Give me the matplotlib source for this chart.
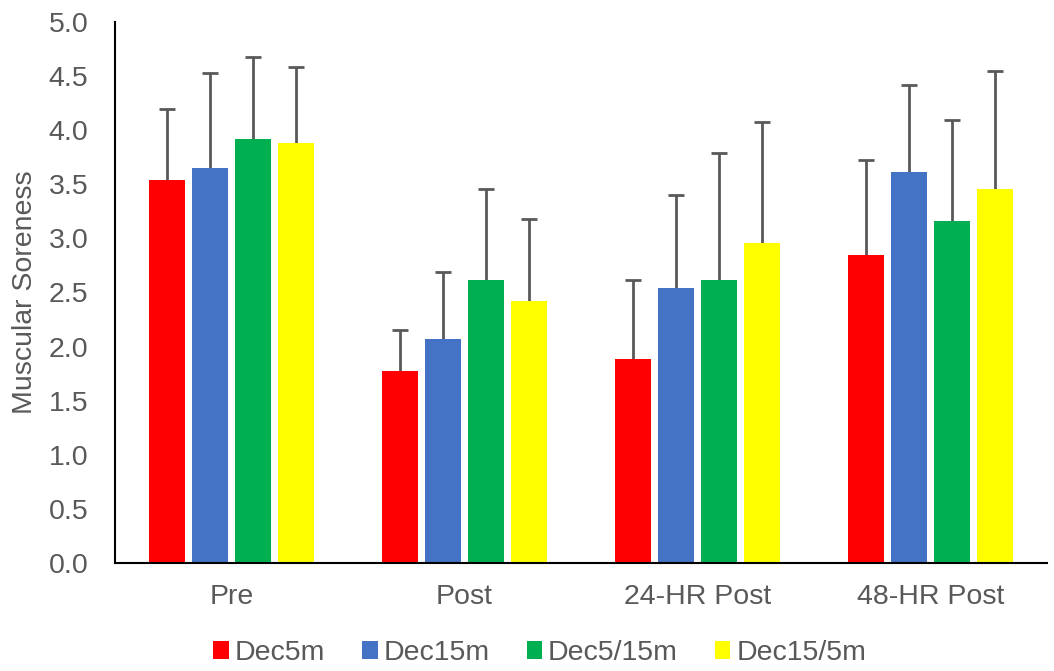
import numpy as np
import matplotlib.pyplot as plt

plt.rcParams['font.family'] = ['Liberation Sans', 'DejaVu Sans']

groups = ["Pre", "Post", "24-HR Post", "48-HR Post"]
series = ["Dec5m", "Dec15m", "Dec5/15m", "Dec15/5m"]
colors = ["#ff0000", "#4472c4", "#00b050", "#ffff00"]

# means per series, one value per group
dec5m = [3.54, 1.77, 1.89, 2.85]
dec15m = [3.65, 2.07, 2.54, 3.61]
dec5_15m = [3.92, 2.62, 2.62, 3.16]
dec15_5m = [3.88, 2.42, 2.96, 3.46]

# upper end of error bars
dec5m_top = [4.20, 2.15, 2.62, 3.72]
dec15m_top = [4.53, 2.69, 3.40, 4.42]
dec5_15m_top = [4.68, 3.46, 3.79, 4.09]
dec15_5m_top = [4.58, 3.18, 4.08, 4.55]

means = [dec5m, dec15m, dec5_15m, dec15_5m]
tops = [dec5m_top, dec15m_top, dec5_15m_top, dec15_5m_top]

fig = plt.figure(figsize=(10.54, 6.71), dpi=100)
ax = fig.add_axes([115 / 1054, 1 - 563 / 671, 932 / 1054, 541 / 671])

x = np.arange(len(groups))
width = 0.155
step = 0.185
gray = "#595959"
fs = 20.5

for i, (name, col) in enumerate(zip(series, colors)):
    m = np.array(means[i])
    err = np.array(tops[i]) - m
    pos = x + (i - 1.5) * step
    ax.bar(pos, m, width, color=col, label=name, zorder=2)
    eb = ax.errorbar(pos, m, yerr=[np.zeros_like(err), err], fmt="none",
                     ecolor=gray, elinewidth=2, capsize=6, capthick=2, zorder=1)
    # only the upper cap is shown
    eb[1][0].set_visible(False)

ax.set_xlim(-0.5, 3.5)
ax.set_ylim(0, 5)
ax.set_yticks(np.arange(0, 5.01, 0.5))
ax.set_yticklabels([f"{v:.1f}" for v in np.arange(0, 5.01, 0.5)])
ax.set_xticks(x)
ax.set_xticklabels(groups)
ax.tick_params(axis="both", length=0, labelsize=fs, colors=gray)
ax.tick_params(axis="x", pad=15)
ax.tick_params(axis="y", pad=19)
ax.set_ylabel("Muscular Soreness", fontsize=fs, color=gray, labelpad=8)

for s in ["top", "right"]:
    ax.spines[s].set_visible(False)
ax.spines["left"].set_linewidth(1.5)
ax.spines["bottom"].set_linewidth(1.5)

fig.legend(loc="center", bbox_to_anchor=(0.512, 1 - 653 / 671), ncol=4, frameon=False,
           fontsize=fs, handlelength=0.55, handleheight=0.55, handletextpad=0.2,
           columnspacing=1.3, labelcolor=gray)

fig.savefig("out.png", dpi=100)
